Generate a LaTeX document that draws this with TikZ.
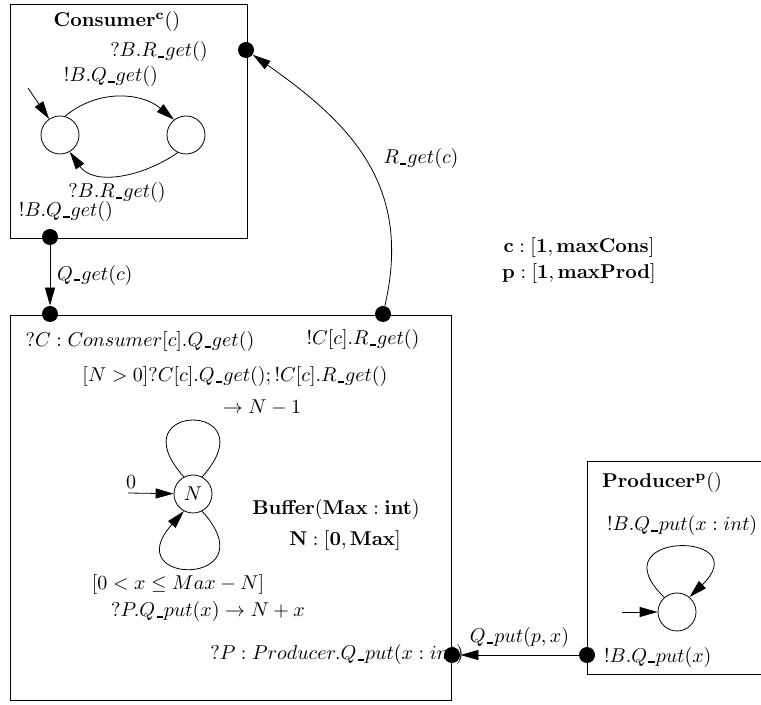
\documentclass[tikz,border=0pt]{standalone}
\usetikzlibrary{arrows.meta}
\newcommand{\usc}{\kern0.6pt\rule[-0.4pt]{3.2pt}{0.9pt}\kern0.5pt}
\begin{document}
\begin{tikzpicture}[x=0.5pt, y=0.5pt, >={Triangle[length=9pt, width=5pt]},
    state/.style={circle, draw, minimum size=19pt, inner sep=0pt},
    port/.style={circle, fill, minimum size=8pt, inner sep=0pt}]
    \useasboundingbox (0,0) rectangle (761,-705);
    \draw (10,-4) rectangle (247,-238);
    \draw (10,-315) rectangle (451,-700);
    \draw (587,-461) rectangle (790,-674);

    \node (cname) at (117,-22) {$\mathbf{Consumer^c}()$};
    \node (cin) at (159,-52) {$?B.R\usc get()$};
    \node (cq) at (111,-77) {$!B.Q\usc get()$};
    \node (cr) at (117,-193) {$?B.R\usc get()$};
    \node (cout) at (66,-212) {$!B.Q\usc get()$};
    \node[state] (c1) at (60,-135) {};
    \node[state] (c2) at (186,-135) {};
    \coordinate (cinit) at (28,-88);
    \draw[->] (cinit) -- (c1);
    \draw[->] (c1.75) to[out=40,in=140] (c2.128);
    \draw[->] (c2.-115) to[out=-145,in=-55] (c1.-60);

    \node (bq) at (140,-342) {$?C : Consumer[c].Q\usc get()$};
    \node (br) at (363,-340) {$!C[c].R\usc get()$};
    \node (bget) at (235,-377) {$[N > 0]?C[c].Q\usc get(); !C[c].R\usc get()$};
    \node (bdec) at (262,-408) {$\rightarrow N - 1$};
    \node[state] (n) at (193,-494) {$N$};
    \coordinate (binit) at (128,-493);
    \node (zero) at (131,-482) {$0$};
    \draw[->] (binit) -- (n);
    \draw (n.118) to[out=132,in=48,distance=51] (n.62);
    \draw[->] (n.-62) to[out=-48,in=-132,distance=51] (n.-118);
    \node (bname) at (336,-510) {$\mathbf{Buffer}(\mathbf{Max} : \mathbf{int})$};
    \node (brange) at (345,-541) {$\mathbf{N} : [\mathbf{0}, \mathbf{Max}]$};
    \node (bguard) at (178,-585) {$[0 < x \leq Max - N]$};
    \node (bput) at (208,-612) {$?P.Q\usc put(x) \rightarrow N + x$};
    \node (bp) at (337,-655) {$?P : Producer.Q\usc put(x : int)$};

    \node (pname) at (662,-483) {$\mathbf{Producer^p}()$};
    \node[anchor=west] (ploop) at (600,-526) {$!B.Q\usc put(x : int)$};
    \node[state] (p) at (677,-612) {};
    \coordinate (pinit) at (622,-612);
    \draw[->] (pinit) -- (p);
    \draw[->] (p.131) to[out=136,in=44,distance=48] (p.50);
    \node[anchor=west] (pout) at (597,-657) {$!B.Q\usc put(x)$};

    \node (cons) at (579,-248) {$\mathbf{c} : [\mathbf{1}, \mathbf{maxCons}]$};
    \node (prod) at (579,-274) {$\mathbf{p} : [\mathbf{1}, \mathbf{maxProd}]$};

    \node[port] (cdr) at (246,-50) {};
    \node[port] (cdq) at (50,-237) {};
    \node[port] (bdq) at (50,-314) {};
    \node[port] (bdr) at (383,-314) {};
    \node[port] (bdp) at (452,-655) {};
    \node[port] (pdp) at (587,-655) {};

    \draw[->] (cdq) -- node[right] {$Q\usc get(c)$} (bdq);
    \draw[->] (bdr) to[out=77,in=-35,looseness=1.1] (cdr);
    \node (rget) at (421,-159) {$R\usc get(c)$};
    \draw[->] (pdp) -- node[above] {$Q\usc put(p, x)$} (bdp);
\end{tikzpicture}
\end{document}
